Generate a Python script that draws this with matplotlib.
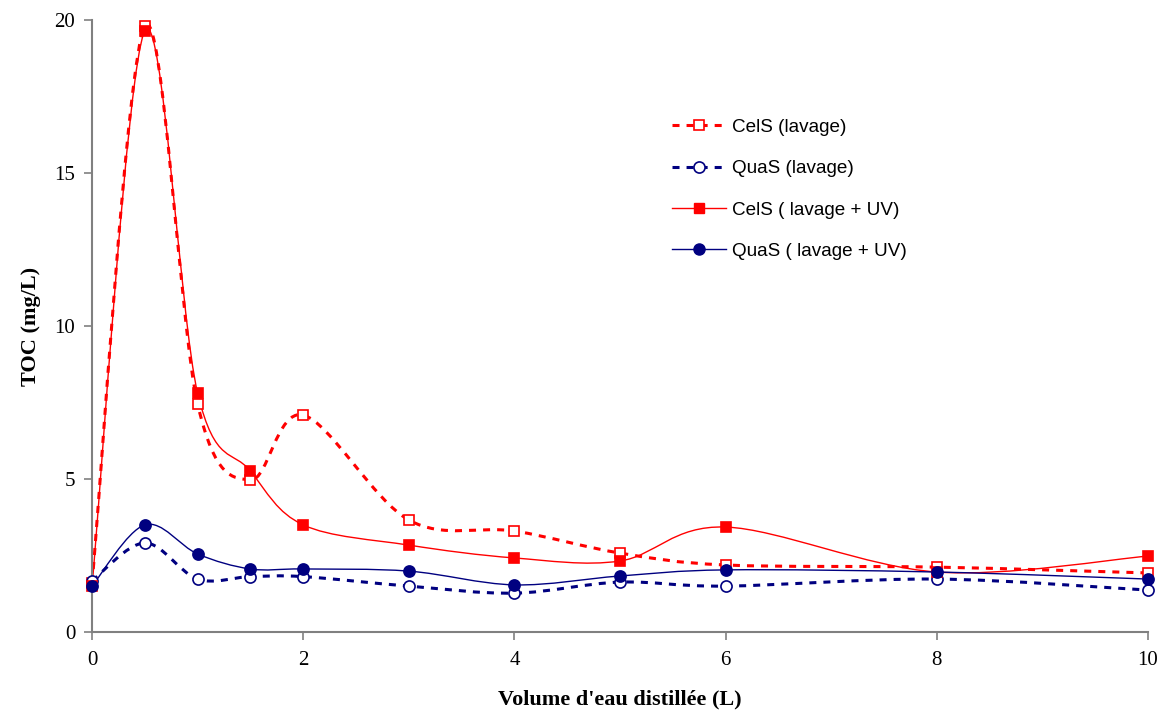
import numpy as np
import matplotlib
matplotlib.use("Agg")
import matplotlib.pyplot as plt
from matplotlib.path import Path
from matplotlib.patches import PathPatch
from matplotlib.lines import Line2D

# volume d'eau distillee (L)
volume = [0, 0.5, 1, 1.5, 2, 3, 4, 5, 6, 8, 10]

# TOC (mg/L)
cels_lavage = [1.6, 19.8, 7.45, 4.97, 7.09, 3.66, 3.30, 2.58, 2.19, 2.12, 1.93]
quas_lavage = [1.67, 2.91, 1.73, 1.81, 1.81, 1.50, 1.27, 1.63, 1.50, 1.73, 1.37]
cels_uv = [1.5, 19.64, 7.81, 5.26, 3.50, 2.84, 2.42, 2.32, 3.43, 1.96, 2.48]
quas_uv = [1.5, 3.50, 2.55, 2.06, 2.06, 1.99, 1.54, 1.83, 2.03, 1.96, 1.73]

labels = ["CelS (lavage)", "QuaS (lavage)", "CelS ( lavage + UV)", "QuaS ( lavage + UV)"]

RED = "#ff0000"
NAVY = "#000080"
GREY = "#808080"


def smooth_path(x, y):
  """courbe lissee (style excel) : bezier passant par les points"""
  p = np.column_stack([x, y]).astype(float)
  n = len(p)
  verts = [p[0]]
  codes = [Path.MOVETO]
  for i in range(n - 1):
    p0 = p[i - 1] if i > 0 else p[i]
    p1 = p[i]
    p2 = p[i + 1]
    p3 = p[i + 2] if i + 2 < n else p[i + 1]
    c1 = p1 + (p2 - p0) / 6.0
    c2 = p2 - (p3 - p1) / 6.0
    verts += [c1, c2, p2]
    codes += [Path.CURVE4] * 3
  return Path(verts, codes)


def draw(ax, x, y, color, lw, ls, marker, ms, face):
  ax.add_patch(PathPatch(smooth_path(x, y), facecolor="none", edgecolor=color,
                         lw=lw, linestyle=ls, capstyle="butt", zorder=2))
  ax.plot(x, y, linestyle="none", marker=marker, ms=ms, mfc=face, mec=color,
          mew=1.2, clip_on=False, zorder=3)


fig = plt.figure(figsize=(11.68, 7.11), dpi=100)
ax = fig.add_axes([92 / 1168, 1 - 632 / 711, (1148 - 92) / 1168, (632 - 20) / 711])

dash = (0, (2.3, 2.3))
draw(ax, volume, cels_lavage, RED, 2.2, dash, "s", 6.5, "white")
draw(ax, volume, quas_lavage, NAVY, 2.2, dash, "o", 8, "white")
draw(ax, volume, cels_uv, RED, 1.0, "-", "s", 6.5, RED)
draw(ax, volume, quas_uv, NAVY, 1.0, "-", "o", 8, NAVY)

ax.set_xlim(0, 10)
ax.set_ylim(0, 20)
ax.set_xticks(range(0, 11, 2))
ax.set_yticks(range(0, 21, 5))

for s in ["top", "right"]:
  ax.spines[s].set_visible(False)
for s in ["left", "bottom"]:
  ax.spines[s].set_color(GREY)
  ax.spines[s].set_linewidth(1.5)
ax.tick_params(direction="out", length=6, width=1.2, color=GREY, labelsize=15)
ax.tick_params(axis="x", pad=8)
ax.tick_params(axis="y", pad=6)
for t in ax.get_xticklabels() + ax.get_yticklabels():
  t.set_fontfamily("Liberation Serif")

ax.set_xlabel("Volume d'eau distillée (L)", fontfamily="Liberation Serif",
              fontweight="bold", fontsize=16, labelpad=14)
ax.set_ylabel("TOC (mg/L)", fontfamily="Liberation Serif",
              fontweight="bold", fontsize=16, labelpad=10)

handles = [
  Line2D([], [], color=RED, lw=2.2, ls=dash, marker="s", ms=6.5, mfc="white", mec=RED, mew=1.2),
  Line2D([], [], color=NAVY, lw=2.2, ls=dash, marker="o", ms=8, mfc="white", mec=NAVY, mew=1.2),
  Line2D([], [], color=RED, lw=1.0, ls="-", marker="s", ms=6.5, mfc=RED, mec=RED),
  Line2D([], [], color=NAVY, lw=1.0, ls="-", marker="o", ms=8, mfc=NAVY, mec=NAVY),
]
fig.legend(handles, labels, loc="upper left", bbox_to_anchor=(664 / 1168, 1 - 111 / 711),
           frameon=False, prop={"family": "Liberation Sans", "size": 13.6},
           handlelength=2.9, handletextpad=0.3, labelspacing=1.28, borderaxespad=0)

fig.savefig("out.png", dpi=100)
plt.close()
